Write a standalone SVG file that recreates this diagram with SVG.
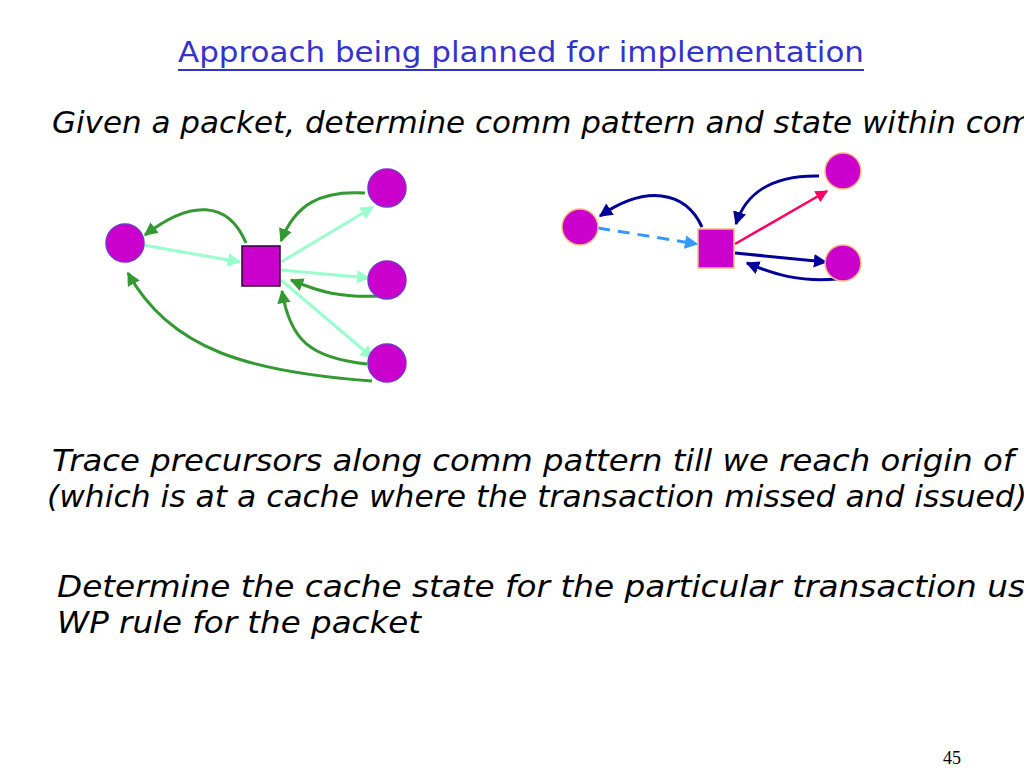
<svg xmlns="http://www.w3.org/2000/svg" width="1024" height="768" viewBox="0 0 1024 768">
<style>
.t{font-family:"DejaVu Sans","Noto Sans",sans-serif;font-style:italic;font-size:30px;fill:#000}
.title{font-family:"DejaVu Sans","Noto Sans",sans-serif;font-size:29px;fill:#3333CC}
.pg{font-family:"Liberation Serif",serif;font-size:18px;fill:#000}
.n1{fill:#CC00CC;stroke:#7733CC;stroke-width:1.5}
.s1{fill:#CC00CC;stroke:#330033;stroke-width:1.5}
.n2{fill:#CC00CC;stroke:#F0C080;stroke-width:1.5}
.aq{fill:none;stroke:#99FFCC;stroke-width:3;marker-end:url(#mAq)}
.gr{fill:none;stroke:#339933;stroke-width:3;marker-end:url(#mGr)}
.nv{fill:none;stroke:#000099;stroke-width:3;marker-end:url(#mNv)}
.rd{fill:none;stroke:#FF0066;stroke-width:2.5;marker-end:url(#mRd)}
.bl{fill:none;stroke:#3399FF;stroke-width:3;stroke-dasharray:12,8;marker-end:url(#mBl)}
</style>
<defs>
<marker id="mAq" viewBox="0 0 10 10" refX="9" refY="5" markerWidth="4.5" markerHeight="4.5" orient="auto" markerUnits="strokeWidth"><path d="M0,0L10,5L0,10z" fill="#99FFCC"/></marker>
<marker id="mGr" viewBox="0 0 10 10" refX="9" refY="5" markerWidth="4.5" markerHeight="4.5" orient="auto" markerUnits="strokeWidth"><path d="M0,0L10,5L0,10z" fill="#339933"/></marker>
<marker id="mNv" viewBox="0 0 10 10" refX="9" refY="5" markerWidth="4.5" markerHeight="4.5" orient="auto" markerUnits="strokeWidth"><path d="M0,0L10,5L0,10z" fill="#000099"/></marker>
<marker id="mRd" viewBox="0 0 10 10" refX="9" refY="5" markerWidth="5" markerHeight="5" orient="auto" markerUnits="strokeWidth"><path d="M0,0L10,5L0,10z" fill="#FF0066"/></marker>
<marker id="mBl" viewBox="0 0 10 10" refX="9" refY="5" markerWidth="4.5" markerHeight="4.5" orient="auto" markerUnits="strokeWidth"><path d="M0,0L10,5L0,10z" fill="#3399FF"/></marker>
</defs>
<rect width="1024" height="768" fill="#fff"/>
<g id="texts">
<text class="title" x="521" y="62" text-anchor="middle" textLength="686" lengthAdjust="spacingAndGlyphs">Approach being planned for implementation</text>
<line x1="178" y1="70" x2="864" y2="70" stroke="#3333CC" stroke-width="2"/>
<text class="t" x="52" y="133" textLength="980" lengthAdjust="spacingAndGlyphs">Given a packet, determine comm pattern and state within com</text>
<text class="t" x="52" y="471" textLength="985" lengthAdjust="spacingAndGlyphs">Trace precursors along comm pattern till we reach origin of t</text>
<text class="t" x="47" y="507" textLength="980" lengthAdjust="spacingAndGlyphs">(which is at a cache where the transaction missed and issued)</text>
<text class="t" x="57" y="597" textLength="977" lengthAdjust="spacingAndGlyphs">Determine the cache state for the particular transaction usi</text>
<text class="t" x="57" y="633" textLength="364" lengthAdjust="spacingAndGlyphs">WP rule for the packet</text>
<text class="pg" x="943" y="764">45</text>
</g>
<g id="connectors">
<line class="aq" x1="143" y1="245" x2="240" y2="262"/>
<line class="aq" x1="281" y1="262" x2="373" y2="207"/>
<line class="aq" x1="281" y1="270" x2="369" y2="278"/>
<line class="aq" x1="281" y1="280" x2="373" y2="358"/>
<path class="gr" d="M246,243 C228,200 190,200 145,235"/>
<path class="gr" d="M365,193 C320,190 295,205 281,241"/>
<path class="gr" d="M382,296 C340,298 320,292 291,280"/>
<path class="gr" d="M367,364 C310,358 290,340 282,291"/>
<path class="gr" d="M372,381 C250,372 170,350 128,273"/>
<path class="nv" d="M702,227 C685,190 645,185 600,216"/>
<line class="bl" x1="598" y1="228" x2="697" y2="244"/>
<path class="nv" d="M819,176 C770,175 745,195 736,224"/>
<line class="rd" x1="735" y1="244" x2="827" y2="191"/>
<line class="nv" x1="735" y1="253" x2="826" y2="262"/>
<path class="nv" d="M837,279 C800,282 775,275 747,263"/>
</g>
<g id="node-l-left"><circle class="n1" cx="125" cy="243" r="19"/></g>
<g id="node-l-center"><rect class="s1" x="242" y="246" width="38" height="40"/></g>
<g id="node-l-top"><circle class="n1" cx="387" cy="188" r="19"/></g>
<g id="node-l-mid"><circle class="n1" cx="387" cy="280" r="19"/></g>
<g id="node-l-bot"><circle class="n1" cx="387" cy="363" r="19"/></g>
<g id="node-r-left"><circle class="n2" cx="580" cy="227" r="18"/></g>
<g id="node-r-center"><rect class="n2" x="698" y="229" width="36" height="39"/></g>
<g id="node-r-top"><circle class="n2" cx="843" cy="171" r="18"/></g>
<g id="node-r-bot"><circle class="n2" cx="843" cy="263" r="18"/></g>
</svg>
